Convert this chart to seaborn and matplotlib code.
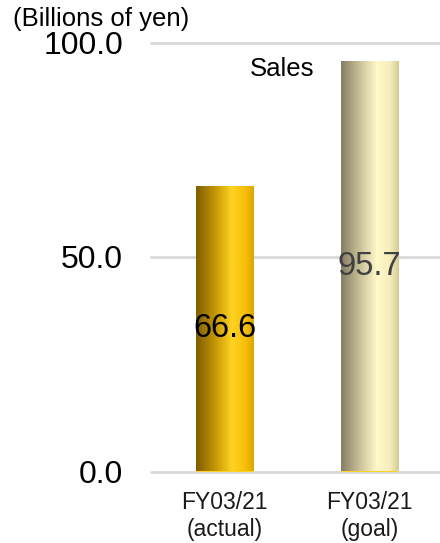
import numpy as np
import pandas as pd
import matplotlib
matplotlib.use("Agg")
import matplotlib.pyplot as plt
from matplotlib.colors import LinearSegmentedColormap
import seaborn as sns

# Sales figures (billions of yen)
categories = ["FY03/21\n(actual)", "FY03/21\n(goal)"]
sales = [66.6, 95.7]
value_colors = ["#000000", "#404040"]
y_ticks = [0.0, 50.0, 100.0]
tick_labels = ["0.0", "50.0", "100.0"]

# Cylinder-style shading for each bar: left edge -> highlight -> right edge
bar_shades = [
    ["#7f5c00", "#c99a05", "#ffd323", "#f5bf0a", "#dda500"],
    ["#857d62", "#cfc69e", "#fff8c9", "#f6edbb", "#d6c994"],
]
shade_stops = [0.0, 0.35, 0.62, 0.85, 1.0]

sns.set_theme(style="white")
plt.rcParams["font.family"] = ["Liberation Sans", "DejaVu Sans"]

df = pd.DataFrame({"category": categories, "sales": sales})

fig = plt.figure(figsize=(4.40, 5.43), dpi=100)
ax = fig.add_axes([151 / 440, 1 - 471.5 / 543, 289 / 440, 429 / 543])

sns.barplot(data=df, x="category", y="sales", ax=ax, width=0.4,
            color="#ffd323", saturation=1, edgecolor="none")

# Paint gradients over each bar, clipped to the bar rectangle
grad = np.linspace(0, 1, 256).reshape(1, -1)
for patch, shades in zip(ax.patches, bar_shades):
    cmap = LinearSegmentedColormap.from_list("shade", list(zip(shade_stops, shades)))
    x0, y0 = patch.get_x(), patch.get_y()
    w, h = patch.get_width(), patch.get_height()
    im = ax.imshow(grad, cmap=cmap, aspect="auto", extent=[x0, x0 + w, y0, y0 + h],
                   zorder=patch.get_zorder() + 0.1, interpolation="bilinear")
    im.set_clip_path(patch)
ax.set_xlim(-0.509, 1.487)
ax.set_ylim(0, 100)

# Value labels in the middle of each bar
for i, (v, c) in enumerate(zip(sales, value_colors)):
    ax.text(i, v / 2, f"{v:.1f}", ha="center", va="center", fontsize=23.5,
            color=c, zorder=5)

ax.set_yticks(y_ticks)
ax.set_yticklabels(tick_labels, fontsize=23, color="black")
ax.yaxis.grid(True, color="#d9d9d9", linewidth=2)
for gl in ax.get_ygridlines():
    gl.set_clip_on(False)
ax.set_axisbelow(True)
ax.tick_params(axis="y", length=0, pad=20)
ax.tick_params(axis="x", length=0, pad=14, labelsize=16.5, labelcolor="#1a1a1a")
ax.set_xlabel("")
ax.set_ylabel("")
for s in ax.spines.values():
    s.set_visible(False)

ax.text(0.394, 93.8, "Sales", ha="center", va="center", fontsize=18.5, color="black")
fig.text(13 / 440, 1 - 19 / 543, "(Billions of yen)", ha="left", va="center",
         fontsize=18.5, color="black")

fig.savefig("out.png", dpi=100)
